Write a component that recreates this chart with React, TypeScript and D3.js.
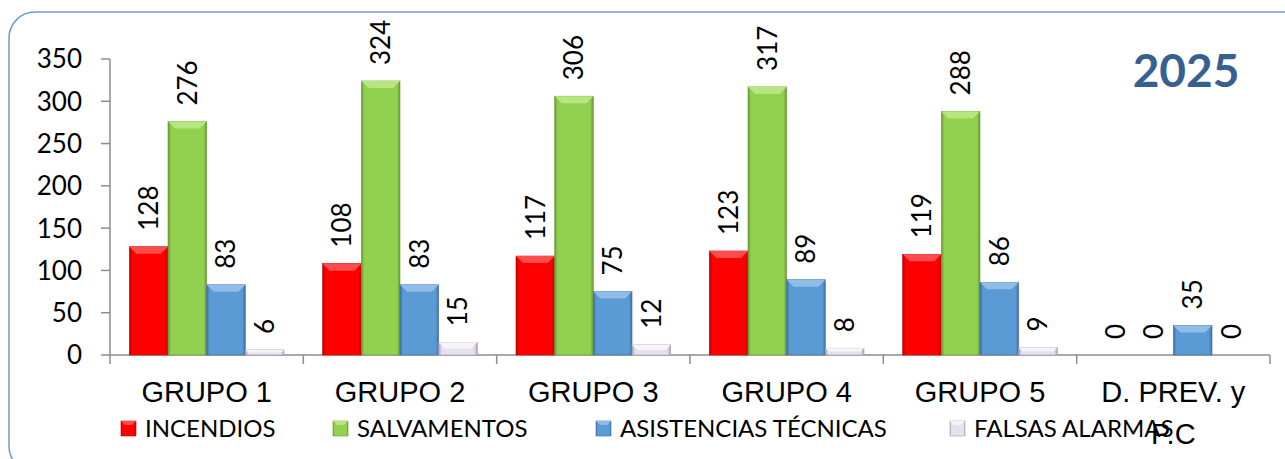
import React from "react";
import * as d3 from "d3";

const categories = ["GRUPO 1", "GRUPO 2", "GRUPO 3", "GRUPO 4", "GRUPO 5", "D. PREV. y P.C"];
const seriesNames = ["INCENDIOS", "SALVAMENTOS", "ASISTENCIAS TÉCNICAS", "FALSAS ALARMAS"];
const incendios = [128, 108, 117, 123, 119, 0];
const salvamentos = [276, 324, 306, 317, 288, 0];
const asistencias = [83, 83, 75, 89, 86, 35];
const falsas = [6, 15, 12, 8, 9, 0];
const yTicks = [0, 50, 100, 150, 200, 250, 300, 350];
const title = "2025";

const seriesValues = [incendios, salvamentos, asistencias, falsas];
const colors = [
  { base: "#ff0000", light: "#ff4d4d", dark: "#c00000" },
  { base: "#92d050", light: "#b5e67f", dark: "#6a9a35" },
  { base: "#5b9bd5", light: "#8fbdea", dark: "#3f6f9e" },
  { base: "#e6e0ec", light: "#f6f3f9", dark: "#a9a0b6" },
];
const legendX = [121, 333, 596, 950];

const W = 1285;
const H = 459;
const x0 = 110;
const x1 = 1270;
const yTop = 59;
const yBot = 355;

export default function App() {
  const x = d3.scaleBand<string>().domain(categories).range([x0, x1]).paddingInner(0).paddingOuter(0);
  const inner = d3
    .scaleBand<number>()
    .domain([0, 1, 2, 3])
    .range([x.bandwidth() / 10, x.bandwidth() - x.bandwidth() / 10])
    .padding(0);
  const y = d3.scaleLinear().domain([0, 350]).range([yBot, yTop]);
  const bw = inner.bandwidth();
  const bev = 7;

  const font = "Lato, 'Open Sans', sans-serif";
  const catFont = "'Liberation Sans', Arial, sans-serif";

  return (
    <svg width={W} height={H} style={{ position: "absolute", left: 0, top: 0, background: "#fff" }}>
      <defs>
        {colors.map((c, i) => (
          <linearGradient key={i} id={`g${i}`} x1="0" x2="1" y1="0" y2="0">
            <stop offset="0" stopColor={c.dark} />
            <stop offset="0.08" stopColor={c.base} />
            <stop offset="0.92" stopColor={c.base} />
            <stop offset="1" stopColor={c.dark} />
          </linearGradient>
        ))}
      </defs>
      <rect x={9} y={12} width={1300} height={460} rx={26} ry={26} fill="#fff" stroke="#6f9bd3" strokeWidth={1.5} />

      {/* y axis */}
      <line x1={x0} x2={x0} y1={yTop} y2={yBot} stroke="#8c8c8c" strokeWidth={1.5} />
      {yTicks.map((t) => (
        <g key={t}>
          <line x1={x0 - 9} x2={x0} y1={y(t)} y2={y(t)} stroke="#8c8c8c" strokeWidth={1.5} />
          <text x={82} y={y(t)} dy="0.36em" textAnchor="end" fontFamily={font} fontSize={26} fill="#000">
            {t}
          </text>
        </g>
      ))}
      {/* x axis */}
      <line x1={x0} x2={x1} y1={yBot} y2={yBot} stroke="#8c8c8c" strokeWidth={1.5} />
      {categories.map((c, i) => (
        <line key={i} x1={x0 + (i + 1) * x.bandwidth()} x2={x0 + (i + 1) * x.bandwidth()} y1={yBot} y2={yBot + 9} stroke="#8c8c8c" strokeWidth={1.5} />
      ))}
      <line x1={x0} x2={x0} y1={yBot} y2={yBot + 9} stroke="#8c8c8c" strokeWidth={1.5} />

      {/* bars */}
      {categories.map((c, ci) => (
        <g key={c} transform={`translate(${x(c)},0)`}>
          {seriesValues.map((vals, si) => {
            const v = vals[ci];
            const bx = inner(si)!;
            const top = y(v);
            const h = yBot - top;
            const b = Math.min(bev, h / 2);
            return (
              <g key={si}>
                {v > 0 && (
                  <>
                    <rect x={bx} y={top} width={bw} height={h} fill={`url(#g${si})`} stroke={colors[si].dark} strokeWidth={0.6} />
                    <polygon
                      points={`${bx},${top} ${bx + bw},${top} ${bx + bw - b},${top + b} ${bx + b},${top + b}`}
                      fill={colors[si].light}
                    />
                  </>
                )}
                <text
                  transform={`translate(${bx + bw / 2},${top - 16}) rotate(-90)`}
                  dy="0.36em"
                  textAnchor="start"
                  fontFamily={font}
                  fontSize={26}
                  fill="#000"
                >
                  {v}
                </text>
              </g>
            );
          })}
        </g>
      ))}

      {/* category labels */}
      {categories.map((c) => {
        const cx = x(c)! + x.bandwidth() / 2;
        if (c === "D. PREV. y P.C") {
          return (
            <text key={c} x={cx} y={402} textAnchor="middle" fontFamily={catFont} fontSize={29} fill="#000">
              <tspan x={cx}>D. PREV. y</tspan>
              <tspan x={cx} dy={42}>P.C</tspan>
            </text>
          );
        }
        return (
          <text key={c} x={cx} y={402} textAnchor="middle" fontFamily={catFont} fontSize={29} fill="#000">
            {c}
          </text>
        );
      })}

      {/* legend */}
      {seriesNames.map((n, i) => (
        <g key={n}>
          <rect x={legendX[i]} y={421} width={15} height={15} fill={`url(#g${i})`} stroke={colors[i].dark} strokeWidth={0.6} />
          <polygon
            points={`${legendX[i]},421 ${legendX[i] + 15},421 ${legendX[i] + 11},425 ${legendX[i] + 4},425`}
            fill={colors[i].light}
          />
          <text x={legendX[i] + 24} y={437} fontFamily={font} fontSize={24} fill="#000">
            {n}
          </text>
        </g>
      ))}

      {/* title */}
      <text x={1186} y={87} textAnchor="middle" fontFamily={font} fontWeight="bold" fontSize={46} fill="#376092">
        {title}
      </text>
    </svg>
  );
}
